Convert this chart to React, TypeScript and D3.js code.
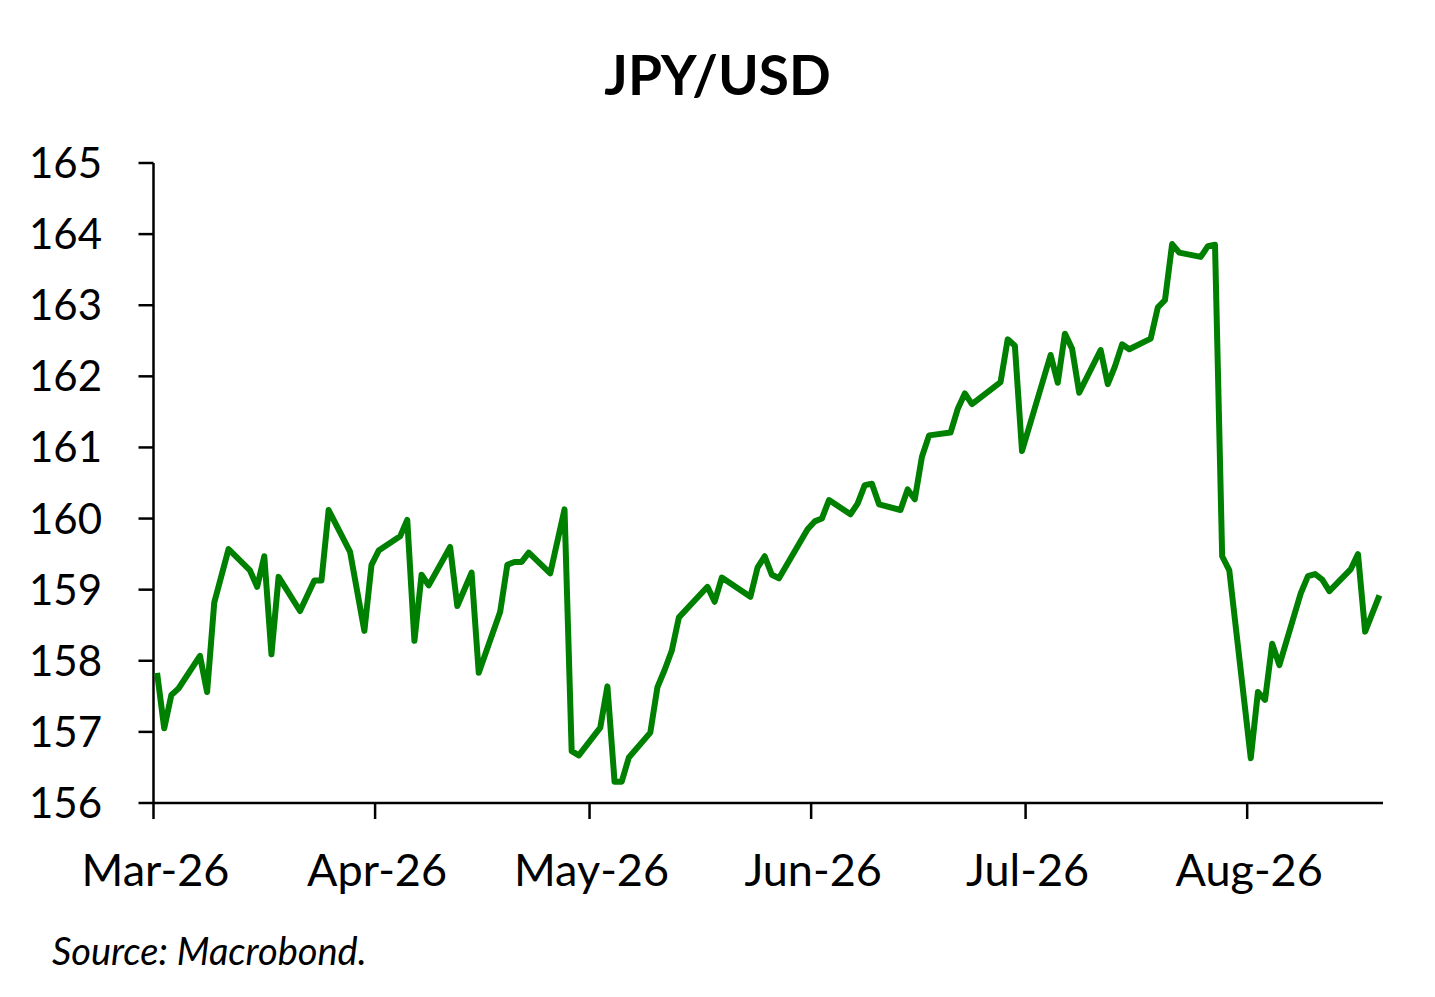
import React, { FC, useMemo } from "react";
import * as d3 from "d3";

// JPY/USD daily fixes (only the turning points)
const dates = [
    "2026-03-01", "2026-03-02", "2026-03-03", "2026-03-04", "2026-03-07", "2026-03-08", "2026-03-09",
    "2026-03-11", "2026-03-14", "2026-03-15", "2026-03-16", "2026-03-17", "2026-03-18", "2026-03-21",
    "2026-03-23", "2026-03-24", "2026-03-25", "2026-03-28", "2026-03-30", "2026-03-31",
    "2026-04-01", "2026-04-04", "2026-04-05", "2026-04-06", "2026-04-07", "2026-04-08", "2026-04-11",
    "2026-04-12", "2026-04-14", "2026-04-15", "2026-04-18", "2026-04-19", "2026-04-20", "2026-04-21",
    "2026-04-22", "2026-04-25", "2026-04-27", "2026-04-28", "2026-04-29",
    "2026-05-02", "2026-05-03", "2026-05-04", "2026-05-05", "2026-05-06", "2026-05-09", "2026-05-10",
    "2026-05-11", "2026-05-12", "2026-05-13", "2026-05-17", "2026-05-18", "2026-05-19", "2026-05-23",
    "2026-05-24", "2026-05-25", "2026-05-26", "2026-05-27", "2026-05-31",
    "2026-06-01", "2026-06-02", "2026-06-03", "2026-06-06", "2026-06-07", "2026-06-08", "2026-06-09",
    "2026-06-10", "2026-06-13", "2026-06-14", "2026-06-15", "2026-06-16", "2026-06-17", "2026-06-20",
    "2026-06-21", "2026-06-22", "2026-06-23", "2026-06-27", "2026-06-28", "2026-06-29", "2026-06-30",
    "2026-07-04", "2026-07-05", "2026-07-06", "2026-07-07", "2026-07-08", "2026-07-11", "2026-07-12",
    "2026-07-13", "2026-07-14", "2026-07-15", "2026-07-18", "2026-07-19", "2026-07-20", "2026-07-21",
    "2026-07-22", "2026-07-25", "2026-07-26", "2026-07-27", "2026-07-28", "2026-07-29",
    "2026-08-01", "2026-08-02", "2026-08-03", "2026-08-04", "2026-08-05", "2026-08-08", "2026-08-09",
    "2026-08-10", "2026-08-11", "2026-08-12", "2026-08-15", "2026-08-16", "2026-08-17", "2026-08-19",
];

const rates = [
    157.83, 157.05, 157.52, 157.61, 158.07, 157.56, 158.82,
    159.57, 159.27, 159.04, 159.47, 158.09, 159.18, 158.7,
    159.13, 159.13, 160.12, 159.53, 158.42, 159.35,
    159.55, 159.75, 159.98, 158.28, 159.21, 159.06, 159.6,
    158.77, 159.24, 157.83, 158.69, 159.35, 159.39, 159.39,
    159.52, 159.23, 160.13, 156.73, 156.67,
    157.06, 157.64, 156.3, 156.3, 156.64, 156.99, 157.63,
    157.87, 158.14, 158.61, 159.04, 158.83, 159.17, 158.9,
    159.31, 159.47, 159.21, 159.16, 159.85,
    159.96, 160.0, 160.26, 160.06, 160.21, 160.47, 160.49,
    160.2, 160.12, 160.41, 160.27, 160.87, 161.17, 161.21,
    161.54, 161.76, 161.61, 161.92, 162.52, 162.43, 160.95,
    162.3, 161.91, 162.6, 162.39, 161.77, 162.37, 161.89,
    162.14, 162.45, 162.38, 162.53, 162.97, 163.07, 163.86,
    163.74, 163.68, 163.83, 163.85, 159.47, 159.27,
    156.63, 157.56, 157.45, 158.24, 157.94, 158.95, 159.19,
    159.22, 159.14, 158.98, 159.29, 159.5, 158.41, 158.92,
];

const xDomain = ["2026-03-01", "2026-08-20"];
const yDomain = [156, 165];
const title = "JPY/USD";
const source = "Source: Macrobond.";

const parse = d3.timeParse("%Y-%m-%d");
const fmt = d3.timeFormat("%b-%y");

const font = "Lato, 'Open Sans', sans-serif";

const ChartJPY: FC<any> = () => {
    const width = 1435;
    const height = 997;
    const left = 153.5;
    const right = 1383;
    const top = 163;
    const bottom = 803;

    const x = useMemo(
        () => d3.scaleTime([parse(xDomain[0]), parse(xDomain[1])], [left, right]),
        []
    );
    const y = useMemo(() => d3.scaleLinear(yDomain, [bottom, top]), []);

    // points sit in the middle of their day, like Excel's date axis
    const points = useMemo(
        () => dates.map((d, i) => [x(d3.timeHour.offset(parse(d), 12)), y(rates[i])]),
        [x, y]
    );
    const pathD = d3.line()(points as any);

    const months = d3.timeMonth.range(parse(xDomain[0]), parse(xDomain[1]));
    const yTicks = y.ticks(10);

    return (
        <svg
            width={width}
            height={height}
            style={{ position: "absolute", top: 0, left: 0, background: "#fff" }}
        >
            <text
                x={width / 2}
                y={95}
                textAnchor="middle"
                fontFamily={font}
                fontWeight="bold"
                fontSize={55}
            >
                {title}
            </text>

            {/* y axis */}
            <line x1={left} x2={left} y1={top} y2={bottom} stroke="#000" strokeWidth={2.5} />
            {yTicks.map((t: number) => (
                <g key={t}>
                    <line x1={left - 15} x2={left} y1={y(t)} y2={y(t)} stroke="#000" strokeWidth={2.5} />
                    <text
                        x={102}
                        y={y(t) + 15}
                        textAnchor="end"
                        fontFamily={font}
                        fontSize={42}
                    >
                        {t}
                    </text>
                </g>
            ))}

            {/* x axis */}
            <line x1={left} x2={right} y1={bottom} y2={bottom} stroke="#000" strokeWidth={2.5} />
            {months.map((m: Date) => (
                <g key={+m}>
                    <line x1={x(m)} x2={x(m)} y1={bottom} y2={bottom + 16} stroke="#000" strokeWidth={2.5} />
                    <text
                        x={x(m) + 2}
                        y={886}
                        textAnchor="middle"
                        fontFamily={font}
                        fontSize={45}
                    >
                        {fmt(m)}
                    </text>
                </g>
            ))}

            <path
                d={pathD || ""}
                fill="none"
                stroke="#008000"
                strokeWidth={6}
                strokeLinejoin="round"
            />

            <text x={52} y={965} fontFamily={font} fontStyle="italic" fontSize={38}>
                {source}
            </text>
        </svg>
    );
};

export default function App() {
    return <ChartJPY />;
}
